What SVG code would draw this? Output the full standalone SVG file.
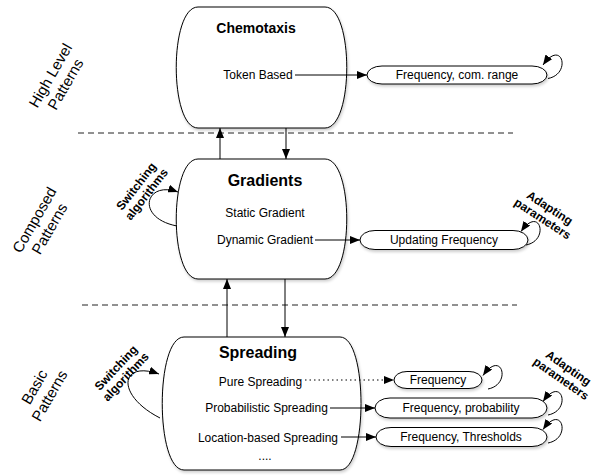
<svg xmlns="http://www.w3.org/2000/svg" width="597" height="475" viewBox="0 0 597 475">
<style>
  .node { fill: #ffffff; stroke: #000000; stroke-width: 1; filter: url(#shadow); }
  .t { font-family: "Liberation Sans", Arial, Helvetica, sans-serif; fill: #000000; text-anchor: middle; }
  .title14 { font-size: 14px; font-weight: bold; }
  .title16 { font-size: 16px; font-weight: bold; }
  .item { font-size: 12px; }
  .lane { font-size: 15px; }
  .note { font-size: 12px; font-weight: bold; }
  .conn { fill: none; stroke: #000000; stroke-width: 1; }
  .arrow { marker-end: url(#ah); }
  .dotted { stroke-dasharray: 1.5,3; }
  .sep { fill: none; stroke: #222222; stroke-width: 1; stroke-dasharray: 6,4; }
</style>
<defs>
  <marker id="ah" markerUnits="userSpaceOnUse" markerWidth="10" markerHeight="8" refX="10" refY="4" orient="auto">
    <path d="M0,0 L10,4 L0,8 z" fill="#000000"/>
  </marker>
  <filter id="shadow" x="-10%" y="-10%" width="130%" height="140%">
    <feGaussianBlur in="SourceAlpha" stdDeviation="1.5"/>
    <feOffset dx="1" dy="2" result="o"/>
    <feComponentTransfer><feFuncA type="linear" slope="0.2"/></feComponentTransfer>
    <feMerge><feMergeNode/><feMergeNode in="SourceGraphic"/></feMerge>
  </filter>
</defs>

<!-- separators -->
<g id="separators">
  <line class="sep" x1="78" y1="133" x2="513" y2="133"/>
  <line class="sep" x1="82" y1="305" x2="517" y2="305"/>
</g>

<!-- lane labels -->
<g id="lane-labels">
  <text class="t lane" transform="translate(57.5,79.5) rotate(-60)"><tspan x="0" y="-3">High Level</tspan><tspan x="0" y="14.5">Patterns</tspan></text>
  <text class="t lane" transform="translate(41.5,224) rotate(-60)"><tspan x="0" y="-3">Composed</tspan><tspan x="0" y="14.5">Patterns</tspan></text>
  <text class="t lane" transform="translate(41.5,391) rotate(-60)"><tspan x="0" y="-3">Basic</tspan><tspan x="0" y="14.5">Patterns</tspan></text>
</g>

<!-- main nodes -->
<g id="chemotaxis">
  <path class="node" d="M198,7 H325 C354,7 354,128 325,128 H198 C169,128 169,7 198,7 Z"/>
  <text class="t title14" x="256" y="33">Chemotaxis</text>
  <text class="t item" x="258" y="79">Token Based</text>
</g>
<g id="gradients">
  <path class="node" d="M198,159 H325 C354,159 354,279 325,279 H198 C169,279 169,159 198,159 Z"/>
  <text class="t title16" x="265" y="186">Gradients</text>
  <text class="t item" x="265" y="217">Static Gradient</text>
  <text class="t item" x="265" y="244">Dynamic Gradient</text>
</g>
<g id="spreading">
  <path class="node" d="M184,337 H340 C368,337 368,470 340,470 H184 C155,470 155,337 184,337 Z"/>
  <text class="t title16" x="258" y="358">Spreading</text>
  <text class="t item" x="260.5" y="386">Pure Spreading</text>
  <text class="t item" x="266.5" y="412">Probabilistic Spreading</text>
  <text class="t item" x="268" y="441.5">Location-based Spreading</text>
  <text class="t item" x="265" y="460">....</text>
</g>

<!-- parameter nodes -->
<g id="freq-com-range">
  <path class="node" d="M382,66 H532 A15,9 0 0 1 532,84 H382 A15,9 0 0 1 382,66 Z"/>
  <text class="t item" x="457" y="79.3">Frequency, com. range</text>
</g>
<g id="updating-frequency">
  <path class="node" d="M375,230.5 H513 A15,9.5 0 0 1 513,249.5 H375 A15,9.5 0 0 1 375,230.5 Z"/>
  <text class="t item" x="444" y="244.3">Updating Frequency</text>
</g>
<g id="frequency">
  <path class="node" d="M407,371.5 H469 A13,8.5 0 0 1 469,388.5 H407 A13,8.5 0 0 1 407,371.5 Z"/>
  <text class="t item" x="438" y="384.3">Frequency</text>
</g>
<g id="freq-probability">
  <path class="node" d="M390,398 H532 A15,10 0 0 1 532,418 H390 A15,10 0 0 1 390,398 Z"/>
  <text class="t item" x="461" y="412.3">Frequency, probability</text>
</g>
<g id="freq-thresholds">
  <path class="node" d="M391,427.5 H532 A15,9.5 0 0 1 532,446.5 H391 A15,9.5 0 0 1 391,427.5 Z"/>
  <text class="t item" x="461" y="441.3">Frequency, Thresholds</text>
</g>

<!-- connectors -->
<g id="connectors">
  <line class="conn arrow" x1="220" y1="159" x2="220" y2="128"/>
  <line class="conn arrow" x1="286" y1="128" x2="286" y2="159"/>
  <line class="conn arrow" x1="227" y1="337" x2="227" y2="279"/>
  <line class="conn arrow" x1="285" y1="279" x2="285" y2="337"/>

  <line class="conn arrow" x1="295" y1="75" x2="367" y2="75"/>
  <line class="conn arrow" x1="315" y1="240" x2="360" y2="240"/>
  <line class="conn arrow dotted" x1="305" y1="380" x2="394" y2="380"/>
  <line class="conn arrow" x1="330" y1="408" x2="375" y2="408"/>
  <line class="conn arrow" x1="341" y1="437" x2="376" y2="437"/>

  <path class="conn arrow" d="M548,78.5 C572,74 562,38 543,65"/>
  <path class="conn arrow" d="M526,245 C550,240.5 540,204.5 521,231.5"/>
  <path class="conn arrow" d="M488,389 C512,384.5 502,348.5 483,375.5"/>
  <path class="conn arrow" d="M548,415 C572,410.5 562,374.5 543,401.5"/>
  <path class="conn arrow" d="M548,443 C572,438.5 562,402.5 543,429.5"/>

  <path class="conn arrow" d="M177,226 C135,218 145,180 178,192"/>
  <path class="conn arrow" d="M160,418 C115,395 120,360 159,374"/>
</g>

<!-- loop labels -->
<g id="loop-labels">
  <text class="t note" transform="translate(141,190) rotate(-52)"><tspan x="0" y="-2">Switching</tspan><tspan x="0" y="11">algorithms</tspan></text>
  <text class="t note" transform="translate(120.5,372) rotate(-47)"><tspan x="0" y="-2">Switching</tspan><tspan x="0" y="11">algorithms</tspan></text>
  <text class="t note" transform="translate(546.5,213) rotate(33)"><tspan x="0" y="-2">Adapting</tspan><tspan x="0" y="11">parameters</tspan></text>
  <text class="t note" transform="translate(565,373) rotate(35)"><tspan x="0" y="-2">Adapting</tspan><tspan x="0" y="11">parameters</tspan></text>
</g>
</svg>
